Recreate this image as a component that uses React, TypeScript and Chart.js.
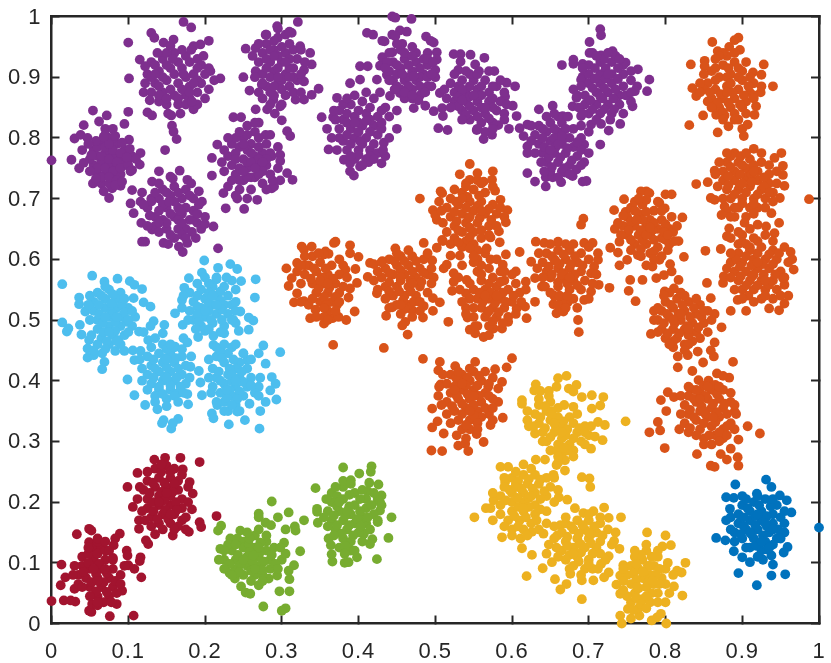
import React, { useEffect, useRef } from "react";
import { Chart, registerables } from "chart.js";

Chart.register(...registerables);

type P = number[];

const purple: P[] = [
  [0,.763],[.026,.764],[.054,.845],[.042,.821],[.072,.837],[.100,.843],[.095,.823],[.03,.799],[.038,.805],[.062,.827],[.116,.775],[.115,.756],[.101,.797],[.075,.701],[.09,.721],[.054,.725],[.079,.717],[.036,.75],[.042,.759],[.105,.747],[.047,.8],[.04,.78],
  [.055,.78],[.065,.79],[.075,.80],[.085,.79],[.095,.78],[.06,.77],[.07,.775],[.08,.77],[.09,.765],[.055,.755],[.065,.76],[.075,.755],[.085,.75],[.095,.755],[.06,.74],[.07,.74],[.08,.735],[.09,.74],[.07,.815],[.08,.815],[.065,.725],[.075,.725],[.105,.77],[.05,.765],[.1,.765],
  [.06,.785],[.07,.785],[.08,.78],[.09,.775],[.065,.77],[.075,.765],[.085,.76],[.06,.75],[.07,.75],[.08,.745],[.09,.75],[.065,.735],[.075,.735],[.085,.73],[.07,.805],[.08,.80],[.075,.79],[.1,.755],
  [.052,.772],[.058,.795],[.068,.802],[.083,.803],[.092,.792],[.102,.782],[.098,.768],[.05,.745],[.058,.733],[.083,.722],[.092,.728],[.103,.745],[.048,.79],[.068,.712],[.11,.765],
  [.172,.991],[.182,.982],[.100,.957],[.101,.898],[.13,.973],[.134,.965],[.146,.957],[.159,.962],[.205,.96],[.194,.954],[.185,.951],[.22,.898],[.207,.91],[.115,.929],[.12,.875],[.125,.842],[.131,.837],[.185,.847],[.19,.855],[.156,.837],[.157,.82],[.163,.798],[.159,.81],[.148,.78],
  [.13,.925],[.145,.93],[.16,.94],[.175,.935],[.19,.93],[.125,.905],[.14,.91],[.155,.915],[.17,.915],[.185,.905],[.135,.89],[.15,.895],[.165,.89],[.18,.885],[.195,.89],[.13,.875],[.145,.875],[.16,.87],[.175,.87],[.19,.875],[.15,.855],[.165,.855],[.14,.86],[.175,.855],[.2,.905],[.195,.92],[.205,.88],
  [.135,.92],[.15,.92],[.165,.925],[.18,.925],[.13,.90],[.145,.90],[.16,.905],[.175,.90],[.19,.895],[.14,.885],[.155,.88],[.17,.88],[.185,.89],[.14,.87],[.15,.865],[.165,.865],[.18,.865],[.15,.94],[.19,.915],[.17,.945],
  [.122,.918],[.138,.94],[.155,.952],[.182,.945],[.198,.935],[.205,.915],[.212,.895],[.122,.89],[.128,.862],[.152,.84],[.168,.84],[.183,.86],[.2,.865],[.135,.905],[.158,.93],[.172,.905],[.18,.875],
  [.14,.745],[.167,.746],[.105,.714],[.192,.712],[.196,.695],[.103,.692],[.107,.676],[.116,.695],[.131,.728],[.155,.736],[.177,.731],[.217,.618],[.171,.612],[.122,.629],[.118,.629],[.146,.627],[.166,.621],[.188,.635],[.211,.654],[.117,.66],[.131,.649],[.177,.627],
  [.13,.70],[.145,.715],[.16,.72],[.175,.715],[.185,.70],[.125,.685],[.14,.70],[.155,.705],[.17,.70],[.185,.68],[.135,.67],[.15,.685],[.165,.685],[.18,.665],[.145,.665],[.16,.67],[.175,.65],[.15,.65],[.165,.65],[.19,.66],[.2,.67],[.135,.655],[.16,.635],
  [.135,.71],[.15,.71],[.165,.71],[.18,.705],[.13,.695],[.145,.69],[.16,.695],[.175,.685],[.14,.68],[.155,.675],[.17,.675],[.185,.665],[.15,.66],[.165,.665],[.17,.66],[.155,.64],[.17,.64],[.14,.66],[.19,.675],
  [.118,.71],[.12,.69],[.128,.672],[.14,.725],[.158,.733],[.182,.725],[.192,.69],[.195,.65],[.183,.645],[.14,.645],[.152,.625],[.175,.635],[.2,.658],[.125,.655],[.153,.695],[.168,.68],
  [.227,.684],[.251,.683],[.268,.698],[.242,.70],[.224,.709],[.209,.767],[.209,.738],[.216,.789],[.237,.834],[.247,.834],[.266,.847],[.279,.805],[.287,.77],[.287,.717],[.298,.772],[.298,.762],[.307,.811],[.311,.803],[.307,.742],[.314,.731],[.298,.73],[.29,.72],[.288,.73],
  [.235,.79],[.25,.80],[.265,.81],[.28,.79],[.23,.77],[.245,.785],[.26,.79],[.275,.775],[.235,.755],[.25,.765],[.265,.77],[.28,.755],[.24,.74],[.255,.75],[.27,.755],[.285,.74],[.25,.73],[.265,.735],[.275,.725],[.225,.745],[.255,.82],[.27,.825],[.23,.72],[.245,.715],[.26,.715],
  [.24,.775],[.255,.78],[.27,.785],[.285,.775],[.24,.765],[.255,.76],[.27,.765],[.245,.75],[.26,.76],[.275,.745],[.245,.73],[.26,.735],[.27,.74],[.255,.805],[.27,.80],[.24,.80],[.25,.79],[.28,.765],[.255,.735],
  [.222,.76],[.225,.78],[.23,.80],[.245,.81],[.265,.825],[.285,.805],[.295,.785],[.295,.75],[.235,.73],[.24,.705],[.255,.70],[.28,.715],[.25,.745],[.275,.76],[.26,.775],[.265,.75],
  [.294,.984],[.279,.97],[.253,.947],[.266,.948],[.25,.90],[.266,.91],[.258,.878],[.274,.888],[.289,.863],[.281,.847],[.321,.991],[.313,.973],[.324,.951],[.337,.94],[.339,.921],[.329,.912],[.329,.893],[.348,.881],[.339,.871],[.329,.863],[.318,.863],[.298,.852],[.3,.829],[.291,.84],
  [.28,.955],[.295,.965],[.31,.955],[.275,.94],[.29,.945],[.305,.94],[.32,.93],[.27,.925],[.285,.925],[.30,.925],[.315,.915],[.275,.905],[.29,.91],[.305,.905],[.32,.895],[.28,.885],[.295,.89],[.31,.885],[.29,.87],[.305,.87],[.295,.98],[.285,.855],[.27,.875],
  [.285,.945],[.30,.95],[.315,.945],[.28,.93],[.295,.935],[.31,.93],[.28,.915],[.295,.915],[.31,.915],[.285,.90],[.30,.895],[.315,.90],[.285,.875],[.30,.88],[.315,.875],[.29,.96],[.275,.89],[.305,.97],
  [.262,.935],[.265,.9],[.27,.955],[.28,.97],[.31,.975],[.325,.945],[.33,.925],[.325,.905],[.325,.875],[.30,.855],[.275,.865],[.29,.935],[.305,.925],[.295,.90],[.29,.885],[.31,.90],
  [.352,.834],[.359,.815],[.361,.781],[.367,.834],[.394,.738],[.389,.745],[.381,.764],[.389,.758],[.402,.753],[.413,.76],[.43,.758],[.435,.77],[.433,.792],[.45,.815],[.45,.845],[.441,.869],[.402,.918],[.412,.918],[.428,.919],[.431,.933],[.372,.866],[.389,.89],[.402,.896],[.424,.896],
  [.375,.845],[.39,.855],[.405,.86],[.42,.865],[.435,.85],[.38,.83],[.395,.835],[.41,.84],[.425,.835],[.375,.815],[.39,.815],[.405,.82],[.42,.82],[.38,.795],[.395,.80],[.41,.80],[.425,.805],[.385,.78],[.40,.78],[.415,.78],[.395,.765],[.41,.765],[.425,.775],[.375,.80],[.43,.815],
  [.385,.84],[.40,.845],[.415,.85],[.43,.845],[.385,.825],[.40,.825],[.415,.83],[.385,.805],[.40,.81],[.415,.81],[.39,.79],[.405,.79],[.42,.79],[.40,.772],[.415,.77],[.43,.825],[.37,.83],[.395,.87],
  [.368,.845],[.365,.80],[.372,.78],[.38,.855],[.41,.875],[.428,.875],[.44,.835],[.44,.80],[.432,.78],[.405,.755],[.42,.765],[.39,.77],[.395,.825],[.41,.828],[.402,.795],[.385,.865],
  [.444,1],[.448,.998],[.469,.996],[.411,.973],[.419,.97],[.431,.96],[.434,.959],[.444,.97],[.454,.977],[.463,.975],[.448,.968],[.488,.967],[.498,.957],[.494,.96],[.457,.955],[.444,.941],[.502,.941],[.502,.929],[.5,.912],[.5,.90],[.472,.849],[.487,.853],[.454,.874],[.437,.904],
  [.445,.925],[.46,.93],[.475,.925],[.49,.92],[.44,.91],[.455,.915],[.47,.91],[.485,.905],[.445,.895],[.46,.895],[.475,.895],[.49,.885],[.455,.88],[.47,.88],[.48,.87],[.46,.865],[.475,.94],[.455,.945],[.49,.94],
  [.45,.92],[.465,.92],[.48,.915],[.45,.905],[.465,.90],[.48,.90],[.45,.885],[.465,.885],[.48,.885],[.46,.875],[.47,.865],[.46,.94],[.47,.935],[.485,.93],[.49,.90],[.44,.895],
  [.437,.925],[.44,.94],[.45,.955],[.47,.95],[.49,.93],[.497,.925],[.495,.905],[.495,.885],[.487,.875],[.478,.862],[.447,.88],[.435,.915],[.47,.87],[.457,.905],[.472,.902],
  [.504,.816],[.516,.813],[.524,.938],[.533,.938],[.546,.937],[.564,.932],[.577,.91],[.552,.921],[.557,.91],[.604,.885],[.593,.891],[.591,.868],[.601,.853],[.606,.836],[.596,.815],[.582,.821],[.563,.798],[.574,.805],[.554,.813],[.51,.836],[.498,.844],[.509,.849],[.506,.874],[.53,.912],[.533,.926],
  [.52,.89],[.535,.895],[.55,.895],[.565,.895],[.58,.885],[.525,.875],[.54,.875],[.555,.88],[.57,.875],[.525,.86],[.54,.86],[.555,.86],[.57,.86],[.585,.86],[.535,.845],[.55,.845],[.565,.84],[.58,.845],[.545,.83],[.56,.825],[.575,.825],[.565,.81],
  [.53,.885],[.545,.885],[.56,.885],[.575,.885],[.53,.868],[.545,.868],[.56,.87],[.575,.865],[.53,.852],[.545,.852],[.56,.85],[.575,.85],[.54,.838],[.555,.835],[.57,.832],[.59,.875],[.545,.905],[.535,.88],
  [.512,.88],[.515,.865],[.52,.85],[.525,.905],[.54,.91],[.555,.905],[.57,.91],[.585,.895],[.593,.855],[.59,.84],[.59,.83],[.575,.815],[.555,.815],[.535,.83],[.535,.862],[.55,.87],[.565,.85],
  [.61,.816],[.62,.822],[.615,.803],[.62,.786],[.62,.775],[.62,.742],[.63,.728],[.644,.735],[.644,.72],[.635,.847],[.664,.727],[.679,.737],[.692,.728],[.697,.729],[.653,.735],[.715,.789],[.694,.76],[.684,.748],[.669,.743],[.666,.836],[.653,.853],[.69,.836],[.694,.789],
  [.635,.82],[.65,.825],[.665,.825],[.68,.815],[.63,.805],[.645,.81],[.66,.81],[.675,.80],[.69,.80],[.635,.79],[.65,.795],[.665,.79],[.68,.785],[.64,.775],[.655,.775],[.67,.775],[.685,.77],[.645,.76],[.66,.76],[.675,.755],[.65,.745],[.665,.745],[.69,.78],
  [.64,.815],[.655,.815],[.67,.815],[.64,.80],[.655,.80],[.67,.80],[.685,.793],[.642,.785],[.657,.785],[.672,.783],[.648,.768],[.663,.768],[.678,.763],[.652,.752],[.668,.75],[.66,.835],[.645,.835],
  [.625,.82],[.625,.795],[.63,.775],[.638,.76],[.642,.745],[.66,.735],[.675,.74],[.69,.755],[.70,.775],[.70,.81],[.69,.82],[.673,.835],[.655,.84],[.66,.79],[.65,.78],[.665,.803],
  [.715,.979],[.716,.969],[.701,.958],[.665,.92],[.68,.929],[.68,.922],[.692,.922],[.701,.94],[.705,.94],[.716,.936],[.731,.943],[.748,.924],[.764,.913],[.779,.896],[.763,.885],[.76,.877],[.776,.877],[.757,.852],[.741,.823],[.726,.812],[.692,.901],[.69,.896],[.68,.880],[.684,.866],[.679,.852],[.703,.822],[.716,.823],
  [.70,.92],[.715,.925],[.73,.925],[.745,.92],[.70,.905],[.715,.905],[.73,.905],[.745,.905],[.70,.89],[.715,.89],[.73,.89],[.745,.885],[.695,.87],[.71,.875],[.725,.875],[.74,.87],[.695,.855],[.71,.855],[.725,.855],[.74,.855],[.755,.86],[.70,.84],[.715,.84],[.73,.84],
  [.708,.915],[.722,.915],[.738,.915],[.708,.898],[.722,.898],[.738,.897],[.705,.882],[.72,.882],[.735,.88],[.702,.862],[.718,.865],[.732,.865],[.748,.87],[.705,.847],[.72,.847],[.733,.847],[.72,.93],[.735,.935],
  [.692,.915],[.69,.885],[.685,.87],[.687,.85],[.692,.84],[.71,.83],[.728,.83],[.745,.84],[.755,.875],[.755,.895],[.755,.91],[.71,.935],[.725,.94],[.74,.93],[.715,.868],[.725,.905],
];

const orange: P[] = [
  [.895,.965],[.89,.961],[.861,.958],[.883,.95],[.868,.943],[.897,.945],[.833,.921],[.851,.927],[.851,.918],[.928,.921],[.914,.908],[.925,.904],[.94,.885],[.835,.882],[.84,.869],[.849,.837],[.831,.821],[.868,.809],[.882,.819],[.902,.803],[.9,.815],[.907,.822],[.895,.83],[.918,.852],[.916,.838],[.866,.838],[.877,.837],[.924,.875],
  [.86,.91],[.875,.92],[.89,.925],[.90,.91],[.855,.89],[.87,.90],[.885,.905],[.90,.895],[.915,.89],[.85,.88],[.865,.88],[.88,.885],[.895,.88],[.91,.875],[.86,.865],[.875,.865],[.89,.865],[.905,.86],[.87,.85],[.885,.85],[.90,.85],[.905,.84],[.88,.935],[.875,.94],
  [.865,.895],[.88,.90],[.895,.90],[.908,.885],[.858,.875],[.872,.872],[.887,.875],[.902,.87],[.868,.858],[.882,.858],[.897,.855],[.865,.915],[.882,.915],[.895,.915],[.875,.842],[.89,.84],
  [.85,.905],[.845,.89],[.845,.875],[.855,.86],[.86,.85],[.875,.83],[.89,.83],[.915,.87],[.915,.865],[.925,.885],[.91,.90],[.905,.925],[.87,.935],[.865,.93],[.89,.94],[.88,.875],[.885,.89],
  [.915,.782],[.951,.775],[.942,.767],[.953,.754],[.953,.739],[.955,.721],[.949,.701],[.987,.699],[.84,.724],[.855,.727],[.864,.746],[.859,.701],[.864,.698],[.89,.775],[.877,.687],[.938,.676],
  [.88,.76],[.895,.76],[.91,.765],[.925,.76],[.875,.745],[.89,.745],[.905,.75],[.92,.745],[.935,.74],[.875,.73],[.89,.73],[.905,.735],[.92,.73],[.935,.725],[.88,.715],[.895,.715],[.91,.72],[.925,.715],[.94,.71],[.885,.70],[.90,.70],[.915,.70],[.93,.70],[.895,.685],[.91,.685],[.92,.685],[.89,.67],[.905,.67],
  [.885,.752],[.90,.755],[.915,.755],[.882,.737],[.897,.74],[.912,.74],[.928,.735],[.882,.722],[.897,.722],[.912,.727],[.928,.72],[.89,.707],[.905,.71],[.92,.707],[.935,.71],[.9,.692],[.915,.692],[.89,.685],[.898,.77],[.885,.77],
  [.87,.76],[.865,.74],[.868,.72],[.875,.70],[.88,.775],[.905,.775],[.925,.775],[.935,.755],[.945,.745],[.945,.725],[.94,.695],[.93,.685],[.915,.675],[.88,.68],[.90,.725],[.915,.745],
  [.967,.583],[.963,.612],[.948,.66],[.872,.617],[.852,.614],[.875,.561],[.876,.572],[.885,.515],[.905,.515],[.894,.533],[.935,.519],[.948,.516],[.955,.527],[.96,.54],[.955,.558],[.953,.569],[.883,.651],[.88,.638],[.885,.67],[.873,.673],[.92,.657],[.942,.643],[.931,.654],[.903,.66],
  [.885,.635],[.90,.64],[.915,.635],[.93,.64],[.895,.625],[.91,.62],
  [.895,.61],[.91,.615],[.925,.62],[.94,.615],[.955,.62],[.885,.595],[.90,.595],[.915,.60],[.93,.60],[.945,.60],[.89,.58],[.905,.58],[.92,.585],[.935,.585],[.95,.58],[.895,.565],[.91,.565],[.925,.565],[.94,.565],[.90,.55],[.915,.55],[.93,.55],[.945,.55],[.925,.535],[.94,.535],
  [.892,.60],[.905,.605],[.92,.61],[.935,.608],[.948,.61],[.897,.588],[.912,.59],[.927,.592],[.94,.592],[.898,.572],[.913,.572],[.928,.575],[.943,.575],[.905,.557],[.92,.557],[.935,.558],[.908,.54],[.93,.54],[.92,.63],[.9,.628],
  [.885,.61],[.88,.585],[.885,.57],[.89,.55],[.90,.535],[.915,.53],[.95,.54],[.955,.57],[.96,.595],[.965,.60],[.905,.625],[.94,.63],[.915,.575],[.93,.565],[.92,.595],[.895,.645],[.91,.65],
  [.746,.699],[.733,.681],[.775,.712],[.768,.712],[.779,.709],[.8,.707],[.808,.707],[.792,.693],[.799,.684],[.822,.669],[.734,.65],[.74,.629],[.728,.619],[.738,.611],[.75,.599],[.74,.59],[.824,.604],[.817,.63],[.806,.592],[.808,.58],[.798,.574],[.788,.569],[.77,.566],[.754,.566],[.752,.548],[.761,.531],[.775,.59],[.783,.588],[.792,.599],[.764,.607],[.803,.615],[.748,.678],
  [.755,.685],[.77,.69],[.785,.68],[.75,.67],[.765,.675],[.78,.665],[.795,.665],[.745,.655],[.76,.655],[.775,.655],[.79,.65],[.805,.65],[.75,.64],[.765,.64],[.78,.64],[.795,.635],[.81,.645],[.76,.625],[.775,.625],[.79,.62],[.805,.625],[.78,.61],[.795,.605],
  [.76,.68],[.775,.678],[.755,.662],[.77,.665],[.785,.66],[.8,.658],[.752,.648],[.768,.648],[.783,.648],[.798,.645],[.755,.632],[.77,.632],[.785,.632],[.8,.632],[.768,.617],[.785,.613],[.775,.698],[.76,.695],
  [.745,.672],[.738,.66],[.742,.64],[.755,.615],[.768,.605],[.785,.60],[.803,.64],[.812,.63],[.815,.655],[.808,.67],[.795,.68],[.79,.695],[.765,.70],[.775,.64],[.78,.652],[.762,.665],
  [.693,.667],[.69,.657],[.66,.629],[.694,.627],[.705,.627],[.712,.599],[.713,.558],[.727,.553],[.703,.547],[.694,.533],[.673,.53],[.654,.526],[.658,.511],[.667,.514],[.686,.5],[.687,.48],[.707,.588],[.703,.577],[.631,.629],[.642,.627],[.625,.596],[.618,.563],[.63,.569],[.63,.53],[.639,.555],
  [.645,.61],[.66,.615],[.675,.615],[.69,.61],[.64,.595],[.655,.60],[.67,.60],[.685,.595],[.70,.60],[.645,.58],[.66,.585],[.675,.585],[.69,.58],[.65,.57],[.665,.57],[.68,.565],[.695,.565],[.66,.555],[.675,.55],[.69,.55],[.655,.54],[.68,.535],[.665,.53],
  [.652,.605],[.667,.608],[.682,.605],[.648,.588],[.662,.592],[.677,.592],[.692,.59],[.652,.575],[.667,.577],[.682,.575],[.66,.562],[.672,.56],[.685,.557],[.662,.54],[.672,.54],[.65,.625],[.67,.625],[.66,.525],
  [.635,.61],[.633,.585],[.64,.57],[.643,.555],[.65,.545],[.67,.52],[.685,.52],[.70,.535],[.705,.56],[.71,.575],[.712,.61],[.70,.62],[.68,.625],[.665,.575],[.675,.57],[.657,.597],
  [.619,.503],[.617,.522],[.606,.519],[.587,.486],[.563,.472],[.552,.478],[.545,.484],[.542,.504],[.54,.52],[.54,.544],[.541,.566],[.517,.497],[.522,.548],[.524,.563],[.524,.577],[.511,.585],[.515,.591],[.588,.591],[.592,.608],[.61,.612],[.605,.58],[.595,.497],[.576,.486],
  [.555,.58],[.57,.585],[.56,.565],[.575,.57],[.59,.565],[.55,.55],[.565,.55],[.58,.555],[.595,.55],[.61,.545],[.555,.535],[.57,.535],[.585,.535],[.60,.53],[.56,.52],[.575,.52],[.59,.52],[.565,.505],[.58,.505],[.595,.505],[.57,.49],[.55,.52],[.555,.60],[.565,.61],
  [.56,.575],[.57,.56],[.585,.563],[.558,.545],[.572,.545],[.588,.545],[.602,.54],[.562,.53],[.578,.528],[.592,.53],[.568,.512],[.583,.513],[.575,.498],[.588,.495],[.56,.59],[.572,.6],[.585,.58],[.545,.56],[.55,.595],[.545,.535],[.55,.505],[.605,.56],[.555,.49],
  [.535,.59],[.53,.57],[.532,.55],[.535,.53],[.54,.51],[.552,.49],[.605,.51],[.612,.53],[.618,.55],[.60,.575],[.59,.58],[.58,.60],[.57,.515],[.58,.54],[.565,.54],[.57,.475],
  [.545,.757],[.532,.74],[.555,.742],[.575,.745],[.48,.70],[.507,.712],[.585,.698],[.594,.681],[.563,.728],[.545,.731],[.574,.731],[.578,.713],[.497,.681],[.502,.665],[.592,.661],[.583,.646],[.572,.636],[.584,.628],[.567,.618],[.502,.619],[.509,.632],[.52,.606],[.532,.606],[.5,.673],[.509,.709],
  [.52,.70],[.535,.71],[.55,.715],[.565,.71],[.515,.685],[.53,.69],[.545,.695],[.56,.695],[.575,.69],[.52,.67],[.535,.675],[.55,.68],[.565,.675],[.58,.675],[.525,.655],[.54,.66],[.555,.66],[.57,.655],[.535,.645],[.55,.645],[.56,.635],[.525,.635],[.54,.63],[.55,.625],[.535,.62],[.555,.615],[.52,.625],
  [.527,.695],[.542,.703],[.557,.705],[.525,.678],[.54,.685],[.555,.688],[.57,.683],[.528,.663],[.543,.668],[.558,.668],[.573,.665],[.53,.648],[.545,.652],[.545,.637],[.56,.648],[.53,.628],[.545,.618],[.54,.725],[.555,.73],
  [.505,.695],[.508,.68],[.51,.66],[.515,.645],[.525,.715],[.54,.72],[.56,.725],[.575,.72],[.585,.685],[.59,.67],[.58,.655],[.57,.64],[.51,.63],[.545,.67],[.56,.68],[.535,.70],[.55,.605],
  [.485,.627],[.448,.618],[.431,.597],[.415,.594],[.42,.592],[.412,.571],[.424,.544],[.436,.507],[.484,.504],[.461,.497],[.457,.491],[.464,.476],[.497,.536],[.506,.529],[.497,.515],[.496,.598],[.498,.57],[.433,.454],[.444,.521],[.47,.516],[.485,.523],
  [.44,.60],[.455,.605],[.47,.605],[.485,.60],[.435,.585],[.45,.59],[.465,.59],[.48,.585],[.43,.57],[.445,.575],[.46,.575],[.475,.57],[.49,.575],[.435,.555],[.45,.555],[.465,.555],[.48,.555],[.445,.54],[.46,.54],[.475,.54],[.45,.525],[.465,.525],[.455,.51],[.47,.505],
  [.447,.597],[.46,.597],[.475,.597],[.44,.577],[.455,.582],[.47,.58],[.485,.578],[.44,.562],[.455,.565],[.468,.565],[.482,.563],[.44,.547],[.453,.547],[.468,.547],[.458,.532],[.472,.53],[.46,.518],
  [.43,.595],[.425,.58],[.42,.565],[.425,.55],[.435,.535],[.44,.52],[.455,.525],[.48,.53],[.49,.545],[.495,.56],[.495,.585],[.465,.615],[.45,.61],[.455,.57],[.47,.56],[.48,.515],[.49,.61],
  [.367,.459],[.368,.627],[.37,.629],[.326,.621],[.329,.616],[.339,.621],[.357,.613],[.361,.609],[.389,.623],[.389,.61],[.4,.604],[.306,.585],[.32,.594],[.396,.584],[.398,.561],[.389,.552],[.387,.537],[.395,.514],[.384,.5],[.355,.494],[.337,.503],[.316,.529],[.309,.556],[.366,.503],[.374,.505],[.344,.517],[.329,.531],[.32,.544],[.313,.569],[.383,.583],
  [.335,.59],[.35,.595],[.365,.59],[.33,.575],[.345,.58],[.36,.575],[.375,.575],[.34,.56],[.355,.56],[.37,.56],[.345,.545],[.36,.545],[.375,.545],[.35,.53],[.365,.53],[.36,.515],[.37,.515],[.355,.505],
  [.342,.585],[.357,.585],[.338,.568],[.352,.57],[.367,.568],[.348,.552],[.362,.553],[.355,.538],[.37,.538],[.358,.525],[.372,.525],[.34,.605],[.355,.608],[.325,.56],[.33,.59],
  [.32,.58],[.325,.59],[.33,.605],[.348,.61],[.375,.60],[.38,.59],[.385,.57],[.38,.555],[.375,.53],[.36,.50],[.345,.505],[.335,.525],[.325,.53],[.35,.565],[.36,.56],[.355,.52],[.34,.535],
  [.484,.436],[.506,.431],[.504,.417],[.526,.424],[.552,.431],[.6,.437],[.593,.422],[.578,.419],[.587,.398],[.582,.387],[.582,.365],[.588,.339],[.572,.327],[.507,.394],[.504,.375],[.496,.354],[.503,.333],[.496,.323],[.511,.313],[.528,.31],[.563,.299],[.554,.312],[.543,.284],[.53,.293],[.539,.296],[.495,.285],[.509,.284],[.569,.39],
  [.52,.41],[.535,.41],[.55,.415],[.565,.415],[.515,.395],[.53,.40],[.545,.40],[.56,.40],[.52,.38],[.535,.385],[.55,.385],[.565,.38],[.515,.365],[.53,.37],[.545,.37],[.56,.365],[.575,.37],[.525,.35],[.54,.355],[.555,.35],[.57,.345],[.53,.335],[.545,.335],[.56,.34],[.545,.32],[.535,.32],
  [.527,.405],[.542,.405],[.557,.408],[.525,.39],[.54,.392],[.555,.392],[.528,.375],[.542,.378],[.557,.375],[.57,.375],[.522,.358],[.535,.362],[.55,.36],[.565,.355],[.535,.345],[.55,.343],[.54,.327],[.525,.385],
  [.51,.41],[.505,.39],[.508,.36],[.515,.345],[.52,.33],[.53,.415],[.545,.42],[.575,.405],[.57,.395],[.575,.355],[.575,.335],[.555,.33],[.555,.32],[.54,.305],[.55,.375],[.535,.395],[.545,.35],
  [.817,.566],[.811,.552],[.854,.561],[.799,.547],[.859,.536],[.864,.51],[.873,.488],[.864,.463],[.842,.448],[.863,.44],[.849,.43],[.816,.422],[.816,.44],[.829,.442],[.781,.477],[.785,.515],[.859,.45],
  [.80,.53],[.815,.535],[.83,.53],[.845,.525],[.795,.515],[.81,.52],[.825,.515],[.84,.51],[.855,.515],[.79,.50],[.805,.505],[.82,.50],[.835,.495],[.85,.495],[.795,.485],[.81,.485],[.825,.485],[.84,.48],[.80,.47],[.815,.47],[.835,.465],[.81,.455],
  [.807,.525],[.822,.525],[.837,.52],[.802,.51],[.817,.51],[.832,.505],[.847,.505],[.798,.495],[.812,.495],[.828,.49],[.843,.488],[.803,.478],[.818,.478],[.83,.475],[.825,.46],[.82,.545],[.805,.545],[.81,.465],
  [.785,.50],[.79,.52],[.798,.54],[.825,.54],[.84,.535],[.85,.515],[.86,.50],[.855,.48],[.845,.47],[.83,.46],[.805,.46],[.79,.48],[.82,.51],[.83,.485],[.81,.50],[.825,.45],
  [.888,.431],[.867,.412],[.883,.405],[.875,.408],[.835,.416],[.843,.401],[.856,.4],[.865,.393],[.833,.386],[.803,.381],[.811,.373],[.794,.368],[.801,.35],[.79,.332],[.793,.318],[.779,.315],[.799,.289],[.841,.279],[.872,.279],[.885,.288],[.894,.274],[.88,.27],[.895,.26],[.859,.26],[.864,.258],[.895,.303],[.923,.313],[.907,.325],[.89,.349],[.818,.32],
  [.83,.375],[.845,.38],[.86,.385],[.875,.385],[.825,.36],[.84,.365],[.855,.37],[.87,.37],[.885,.365],[.83,.345],[.845,.35],[.86,.355],[.875,.355],[.825,.33],[.84,.335],[.855,.34],[.87,.34],[.885,.33],[.83,.315],[.845,.32],[.86,.325],[.875,.32],[.85,.305],[.865,.31],[.875,.305],[.86,.295],
  [.837,.37],[.852,.375],[.867,.378],[.832,.352],[.847,.358],[.862,.362],[.877,.362],[.837,.34],[.852,.345],[.867,.348],[.88,.345],[.832,.322],[.85,.33],[.865,.332],[.88,.325],[.857,.31],[.87,.315],[.85,.392],[.84,.385],
  [.82,.375],[.83,.39],[.855,.39],[.87,.39],[.885,.38],[.89,.36],[.892,.345],[.89,.32],[.88,.31],[.87,.30],[.85,.295],[.84,.31],[.82,.345],[.85,.35],[.862,.34],[.845,.37],
];

const lightBlue: P[] = [
  [.014,.559],[.053,.573],[.086,.568],[.069,.563],[.102,.564],[.108,.558],[.118,.551],[.036,.537],[.036,.526],[.044,.514],[.129,.522],[.12,.529],[.014,.496],[.022,.486],[.02,.481],[.037,.492],[.039,.476],[.049,.467],[.047,.453],[.047,.438],[.055,.442],[.069,.431],[.066,.419],[.066,.445],[.083,.449],[.095,.449],[.114,.481],[.12,.48],[.107,.536],[.109,.505],
  [.06,.545],[.075,.55],[.09,.545],[.055,.53],[.07,.535],[.085,.535],[.10,.52],[.055,.515],[.07,.52],[.085,.52],[.06,.50],[.075,.505],[.09,.505],[.105,.49],[.06,.485],[.075,.49],[.09,.49],[.065,.47],[.08,.475],[.095,.475],[.06,.46],[.075,.46],[.09,.46],
  [.065,.54],[.08,.542],[.062,.525],[.078,.527],[.092,.525],[.062,.51],[.078,.512],[.095,.512],[.067,.495],[.083,.497],[.098,.497],[.068,.48],[.083,.482],[.072,.465],[.087,.467],
  [.05,.54],[.048,.525],[.05,.50],[.052,.475],[.07,.555],[.095,.535],[.1,.50],[.105,.515],[.1,.48],[.085,.465],[.07,.452],[.055,.45],[.08,.51],[.07,.505],[.085,.505],[.075,.48],
  [.199,.598],[.217,.586],[.233,.592],[.242,.584],[.196,.578],[.179,.569],[.173,.553],[.247,.564],[.266,.567],[.265,.537],[.161,.511],[.17,.533],[.171,.492],[.191,.472],[.211,.474],[.2,.482],[.225,.478],[.244,.482],[.257,.484],[.263,.499],[.257,.504],[.246,.514],[.237,.5],
  [.18,.545],[.195,.55],[.21,.555],[.225,.555],[.185,.53],[.20,.535],[.215,.54],[.23,.54],[.18,.515],[.195,.52],[.21,.525],[.225,.525],[.185,.50],[.20,.505],[.215,.51],[.23,.51],[.195,.49],[.21,.495],[.225,.49],[.24,.495],[.205,.56],[.235,.565],
  [.19,.54],[.205,.545],[.22,.547],[.19,.522],[.205,.527],[.22,.532],[.19,.51],[.205,.515],[.222,.517],[.192,.497],[.208,.5],[.222,.5],[.2,.57],[.215,.567],[.228,.57],[.235,.525],
  [.172,.54],[.17,.52],[.178,.5],[.188,.485],[.205,.485],[.22,.48],[.235,.50],[.24,.515],[.24,.53],[.24,.55],[.215,.57],[.19,.56],[.2,.515],[.215,.525],[.21,.54],
  [.147,.492],[.133,.498],[.129,.49],[.145,.478],[.172,.47],[.177,.463],[.126,.467],[.106,.45],[.116,.449],[.108,.434],[.099,.402],[.108,.376],[.122,.36],[.138,.353],[.146,.335],[.144,.33],[.165,.337],[.156,.321],[.158,.33],[.178,.361],[.177,.378],[.194,.397],[.192,.416],[.181,.423],[.161,.456],
  [.125,.44],[.14,.445],[.155,.445],[.17,.44],[.13,.425],[.145,.43],[.16,.43],[.175,.425],[.125,.41],[.14,.415],[.155,.415],[.17,.41],[.13,.395],[.145,.40],[.16,.40],[.175,.395],[.14,.385],[.155,.385],[.15,.37],[.135,.375],[.165,.38],[.145,.46],[.13,.455],
  [.133,.435],[.148,.437],[.162,.437],[.135,.42],[.15,.422],[.165,.42],[.133,.405],[.148,.407],[.163,.405],[.14,.39],[.155,.392],[.168,.39],[.145,.378],[.16,.375],[.15,.452],[.16,.455],
  [.115,.435],[.118,.42],[.118,.40],[.125,.385],[.135,.365],[.15,.358],[.165,.365],[.172,.38],[.18,.405],[.182,.44],[.17,.452],[.155,.46],[.135,.47],[.15,.405],[.15,.435],
  [.298,.447],[.276,.458],[.27,.445],[.279,.428],[.211,.459],[.287,.406],[.292,.395],[.293,.369],[.285,.384],[.272,.35],[.252,.335],[.271,.321],[.231,.328],[.209,.346],[.211,.338],[.196,.376],[.216,.36],[.242,.349],[.279,.365],[.255,.434],
  [.215,.44],[.23,.445],[.245,.43],[.21,.42],[.225,.43],[.24,.42],[.255,.42],[.215,.405],[.23,.41],[.245,.405],[.26,.405],[.21,.39],[.225,.395],[.24,.39],[.255,.39],[.27,.39],[.22,.38],[.235,.375],[.25,.375],[.265,.38],[.225,.365],[.24,.36],[.23,.35],[.22,.45],[.215,.455],
  [.222,.437],[.237,.435],[.218,.415],[.232,.42],[.248,.415],[.22,.4],[.235,.4],[.25,.398],[.232,.385],[.245,.382],[.26,.392],[.228,.372],[.242,.37],[.235,.36],[.235,.455],[.25,.445],
  [.205,.435],[.205,.405],[.208,.38],[.215,.365],[.225,.35],[.245,.35],[.258,.362],[.27,.375],[.272,.405],[.26,.435],[.25,.445],[.24,.46],[.225,.46],[.235,.41],[.24,.4],[.228,.385],
];

const darkRed: P[] = [
  [0,.037],[.013,.097],[.012,.063],[.016,.038],[.018,.076],[.033,.147],[.049,.156],[.052,.153],[.049,.134],[.089,.148],[.083,.14],[.081,.129],[.098,.12],[.099,.112],[.116,.109],[.115,.103],[.1,.096],[.108,.09],[.117,.076],[.08,.108],[.107,.013],[.076,.012],[.049,.021],[.052,.019],[.085,.032],[.092,.054],[.031,.036],[.025,.038],[.03,.057],[.053,.032],
  [.04,.11],[.055,.125],[.065,.125],[.04,.095],[.055,.105],[.07,.105],[.035,.08],[.05,.09],[.065,.09],[.08,.09],[.045,.075],[.06,.075],[.075,.075],[.09,.08],[.05,.06],[.065,.06],[.08,.06],[.06,.045],[.075,.045],[.085,.05],[.035,.065],[.06,.135],
  [.048,.115],[.06,.115],[.048,.1],[.062,.098],[.042,.085],[.058,.082],[.072,.083],[.052,.068],[.068,.068],[.083,.07],[.058,.053],[.072,.052],[.068,.035],[.06,.03],[.07,.12],
  [.03,.095],[.028,.08],[.04,.06],[.05,.045],[.06,.035],[.078,.035],[.09,.065],[.095,.095],[.08,.105],[.075,.12],[.06,.14],[.07,.135],[.048,.125],[.06,.07],[.055,.09],[.07,.09],
  [.193,.266],[.168,.273],[.148,.273],[.134,.27],[.112,.248],[.099,.225],[.171,.254],[.18,.233],[.184,.214],[.183,.188],[.193,.167],[.195,.159],[.179,.151],[.158,.145],[.114,.156],[.114,.17],[.106,.192],[.126,.131],[.123,.137],[.135,.147],[.215,.177],
  [.135,.255],[.15,.26],[.16,.255],[.125,.235],[.14,.24],[.155,.24],[.165,.235],[.12,.22],[.135,.225],[.15,.225],[.165,.22],[.125,.205],[.14,.21],[.155,.21],[.17,.205],[.125,.19],[.14,.195],[.155,.195],[.17,.19],[.13,.175],[.145,.18],[.16,.18],[.17,.17],[.14,.165],[.155,.165],[.175,.155],
  [.143,.25],[.155,.25],[.132,.232],[.147,.232],[.16,.23],[.128,.215],[.143,.217],[.158,.217],[.132,.2],[.147,.203],[.162,.2],[.133,.185],[.148,.187],[.163,.187],[.138,.172],[.152,.172],[.165,.16],
  [.115,.225],[.112,.205],[.118,.185],[.122,.17],[.13,.16],[.145,.155],[.16,.155],[.175,.175],[.178,.2],[.178,.225],[.17,.245],[.143,.262],[.125,.25],[.15,.215],[.14,.2],[.155,.18],
];

const green: P[] = [
  [.287,.201],[.27,.181],[.27,.175],[.295,.175],[.309,.183],[.279,.166],[.286,.162],[.329,.17],[.317,.16],[.318,.153],[.305,.155],[.303,.133],[.324,.119],[.221,.161],[.217,.153],[.246,.153],[.22,.123],[.316,.096],[.309,.087],[.31,.073],[.31,.053],[.297,.053],[.276,.028],[.305,.025],[.3,.021],[.247,.061],[.253,.051],[.259,.049],[.27,.063],[.294,.079],[.283,.074],[.239,.074],[.232,.083],[.233,.14],[.242,.14],
  [.25,.135],[.265,.145],[.28,.135],[.235,.12],[.25,.125],[.265,.125],[.28,.12],[.29,.125],[.225,.105],[.24,.105],[.255,.11],[.27,.11],[.285,.105],[.30,.105],[.24,.09],[.255,.095],[.27,.095],[.285,.09],[.25,.08],[.265,.08],[.275,.08],[.23,.13],[.27,.155],
  [.257,.13],[.272,.133],[.243,.113],[.258,.118],[.272,.118],[.287,.113],[.232,.098],[.247,.098],[.262,.102],[.277,.102],[.292,.098],[.245,.085],[.26,.087],[.275,.088],[.258,.14],
  [.225,.12],[.218,.105],[.225,.09],[.235,.08],[.26,.07],[.275,.07],[.295,.09],[.305,.115],[.298,.125],[.28,.145],[.255,.15],[.24,.13],[.265,.09],[.25,.105],[.27,.125],[.263,.112],
  [.38,.257],[.417,.259],[.416,.25],[.401,.247],[.39,.236],[.414,.232],[.426,.229],[.412,.218],[.344,.223],[.346,.189],[.346,.184],[.347,.166],[.443,.175],[.439,.141],[.425,.167],[.418,.139],[.415,.131],[.424,.106],[.398,.109],[.382,.1],[.387,.101],[.366,.102],[.365,.114],[.364,.129],[.361,.14],[.43,.211],[.428,.2],[.428,.186],[.407,.148],
  [.365,.215],[.38,.225],[.395,.215],[.41,.205],[.425,.205],[.365,.20],[.38,.205],[.395,.195],[.41,.19],[.36,.185],[.375,.185],[.39,.18],[.405,.175],[.42,.18],[.365,.17],[.38,.17],[.395,.165],[.41,.165],[.37,.155],[.385,.155],[.40,.15],[.38,.14],[.39,.135],[.375,.125],[.39,.12],[.38,.235],
  [.372,.21],[.388,.212],[.402,.205],[.372,.193],[.388,.193],[.402,.185],[.368,.178],[.383,.178],[.398,.172],[.412,.175],[.372,.162],[.388,.162],[.403,.16],[.378,.148],[.393,.145],[.383,.128],[.417,.195],
  [.358,.205],[.355,.175],[.36,.16],[.368,.145],[.382,.115],[.395,.12],[.405,.135],[.415,.155],[.425,.17],[.43,.195],[.42,.215],[.405,.22],[.39,.23],[.37,.225],[.385,.185],[.375,.2],
];

const gold: P[] = [
  [.671,.408],[.66,.404],[.631,.394],[.629,.384],[.637,.383],[.648,.383],[.658,.39],[.674,.387],[.684,.393],[.68,.382],[.704,.376],[.719,.373],[.613,.368],[.613,.362],[.715,.359],[.704,.354],[.62,.335],[.63,.313],[.748,.333],[.721,.327],[.712,.332],[.718,.302],[.703,.288],[.68,.357],[.691,.373],[.669,.252],[.669,.269],[.658,.261],[.643,.27],[.631,.27],
  [.635,.36],[.65,.365],[.66,.355],[.63,.345],[.645,.35],[.66,.34],[.675,.34],[.635,.33],[.65,.335],[.665,.325],[.68,.33],[.695,.325],[.64,.315],[.655,.315],[.67,.31],[.685,.315],[.70,.31],[.645,.30],[.66,.295],[.675,.295],[.69,.30],[.65,.285],[.665,.28],[.66,.265],[.68,.285],
  [.643,.358],[.652,.35],[.637,.34],[.652,.343],[.667,.333],[.643,.322],[.657,.325],[.672,.32],[.688,.322],[.65,.307],[.665,.305],[.68,.305],[.695,.315],[.658,.285],[.672,.285],[.66,.275],
  [.62,.35],[.622,.325],[.628,.325],[.635,.37],[.648,.375],[.668,.36],[.685,.345],[.703,.325],[.708,.308],[.695,.295],[.68,.275],[.64,.30],[.668,.29],[.655,.33],[.665,.315],
  [.585,.258],[.595,.258],[.615,.262],[.551,.175],[.566,.19],[.575,.17],[.587,.142],[.611,.14],[.613,.124],[.626,.113],[.64,.091],[.619,.078],[.672,.204],[.691,.241],[.701,.239],[.702,.225],[.654,.245],[.641,.148],[.626,.151],[.576,.203],[.591,.233],[.661,.208],
  [.60,.24],[.615,.245],[.63,.245],[.645,.24],[.59,.225],[.605,.23],[.62,.23],[.635,.23],[.65,.225],[.585,.21],[.60,.215],[.615,.215],[.63,.215],[.645,.21],[.585,.195],[.60,.20],[.615,.20],[.63,.195],[.60,.185],[.615,.185],[.63,.18],[.645,.185],[.595,.17],[.61,.17],[.625,.165],[.60,.155],[.615,.155],[.635,.155],
  [.608,.235],[.622,.238],[.637,.237],[.597,.22],[.612,.222],[.627,.222],[.642,.218],[.592,.203],[.607,.207],[.622,.207],[.637,.205],[.608,.192],[.622,.192],[.637,.188],[.603,.177],[.618,.175],[.632,.17],[.608,.16],
  [.575,.215],[.572,.19],[.585,.18],[.59,.16],[.60,.145],[.62,.145],[.645,.165],[.655,.2],[.66,.22],[.655,.24],[.625,.255],[.605,.25],[.59,.24],[.615,.19],[.625,.21],[.605,.225],
  [.682,.19],[.693,.182],[.706,.185],[.72,.191],[.726,.174],[.742,.175],[.733,.136],[.74,.123],[.726,.111],[.726,.084],[.72,.076],[.706,.071],[.691,.04],[.691,.071],[.671,.065],[.663,.056],[.656,.073],[.676,.082],[.652,.101],[.645,.115],[.648,.13],[.659,.145],[.716,.098],[.663,.162],
  [.67,.165],[.685,.17],[.70,.17],[.715,.165],[.665,.15],[.68,.155],[.695,.155],[.71,.15],[.725,.155],[.67,.135],[.685,.14],[.70,.14],[.715,.135],[.665,.12],[.68,.125],[.695,.125],[.71,.125],[.67,.105],[.685,.11],[.70,.105],[.715,.115],[.68,.095],[.695,.09],[.705,.09],
  [.677,.16],[.692,.162],[.707,.16],[.672,.143],[.687,.148],[.703,.147],[.718,.145],[.672,.128],[.688,.132],[.703,.132],[.675,.113],[.69,.117],[.705,.115],[.687,.102],[.7,.098],
  [.655,.16],[.655,.14],[.658,.125],[.66,.11],[.675,.09],[.69,.08],[.712,.09],[.722,.105],[.73,.13],[.735,.15],[.715,.175],[.70,.18],[.67,.175],[.69,.13],[.7,.15],[.68,.115],
  [.776,.15],[.8,.145],[.796,.127],[.807,.129],[.826,.1],[.821,.084],[.815,.087],[.811,.061],[.822,.046],[.8,.035],[.736,.064],[.741,.079],[.741,.049],[.741,.013],[.743,0],[.755,.008],[.766,.013],[.782,.005],[.789,.01],[.794,.016],[.801,0],[.745,.096],[.751,.024],
  [.76,.11],[.775,.12],[.79,.11],[.755,.095],[.77,.105],[.785,.095],[.80,.09],[.75,.08],[.765,.09],[.78,.08],[.795,.075],[.755,.065],[.77,.075],[.785,.065],[.80,.065],[.76,.05],[.775,.06],[.79,.05],[.755,.035],[.77,.04],[.78,.035],[.765,.025],[.75,.045],
  [.768,.113],[.782,.11],[.762,.098],[.777,.095],[.792,.09],[.758,.082],[.772,.085],[.787,.08],[.762,.072],[.777,.068],[.792,.065],[.765,.058],[.782,.05],[.762,.042],[.775,.045],[.768,.032],
  [.745,.09],[.745,.07],[.745,.055],[.76,.12],[.775,.13],[.79,.12],[.803,.10],[.81,.08],[.805,.05],[.79,.035],[.775,.025],[.758,.022],[.77,.085],[.78,.095],[.783,.07],[.763,.06],
];

const blue: P[] = [
  [.931,.237],[.891,.229],[.879,.208],[.889,.207],[.9,.21],[.919,.214],[.938,.225],[.949,.211],[.958,.203],[.964,.183],[1,.158],[.955,.15],[.959,.126],[.954,.117],[.94,.097],[.938,.112],[.956,.081],[.938,.079],[.919,.063],[.895,.083],[.9,.109],[.91,.101],[.927,.105],[.866,.141],[.878,.137],[.889,.119],[.879,.17],[.884,.189],
  [.90,.195],[.915,.20],[.93,.205],[.945,.195],[.895,.18],[.91,.185],[.925,.185],[.94,.18],[.895,.165],[.91,.17],[.925,.17],[.94,.165],[.95,.175],[.89,.15],[.905,.155],[.92,.155],[.935,.15],[.90,.14],[.915,.14],[.93,.135],[.945,.14],[.91,.125],[.925,.12],[.94,.13],
  [.907,.19],[.922,.195],[.937,.193],[.902,.175],[.917,.177],[.932,.177],[.902,.16],[.917,.162],[.932,.16],[.947,.155],[.898,.147],[.912,.147],[.927,.145],[.94,.155],[.918,.128],[.932,.122],
  [.885,.175],[.885,.155],[.89,.135],[.905,.125],[.92,.11],[.935,.125],[.95,.14],[.955,.165],[.955,.185],[.94,.205],[.92,.21],[.905,.205],[.92,.18],[.91,.15],[.93,.165],[.925,.135],
];

const groups: [P[], string][] = [
  [darkRed, "#A2142F"],
  [green, "#77AC30"],
  [lightBlue, "#4DBEEE"],
  [purple, "#7E2F8E"],
  [orange, "#D95319"],
  [gold, "#EDB120"],
  [blue, "#0072BD"],
];

const INK = "#262626";
const FONT = { family: "'Liberation Sans', Arial, sans-serif", size: 22 };
const TICK_IN = 8;

function axisBase() {
  return {
    type: "linear" as const,
    min: 0,
    max: 1,
    border: { display: true, color: INK, width: 2.5 },
    grid: {
      drawOnChartArea: false,
      drawTicks: true,
      tickLength: -TICK_IN,
      tickColor: INK,
      tickWidth: 2,
    },
  };
}

function labels(v: number | string) {
  return String(+Number(v).toFixed(1));
}

function noPadding(s: any) {
  s.paddingLeft = 0;
  s.paddingRight = 0;
  s.paddingTop = 0;
  s.paddingBottom = 0;
}

const tickLetterSpacing = {
  id: "tickLetterSpacing",
  beforeDraw(chart: any) {
    chart.ctx.letterSpacing = "1px";
  },
};

export default function App() {
  const ref = useRef<HTMLCanvasElement>(null);
  useEffect(() => {
    if (!ref.current) return;
    const chart = new Chart(ref.current, {
      type: "scatter",
      plugins: [tickLetterSpacing],
      data: {
        datasets: groups.map(([pts, color]) => ({
          data: pts.map(([x, y]) => ({ x, y })),
          backgroundColor: color,
          borderWidth: 0,
          pointRadius: 4.9,
          pointHoverRadius: 4.9,
          clip: false as any,
        })),
      },
      options: {
        responsive: false,
        animation: false,
        events: [],
        layout: { padding: { left: 0, top: 16.5, right: 12, bottom: 0 } },
        plugins: { legend: { display: false }, tooltip: { enabled: false } },
        scales: {
          x: {
            ...axisBase(),
            position: "bottom",
            ticks: { stepSize: 0.1, color: INK, font: FONT, padding: TICK_IN + 15, maxRotation: 0, autoSkip: false, callback: labels },
            afterFit: (s: any) => { s.height = 39.5; noPadding(s); },
          },
          y: {
            ...axisBase(),
            position: "left",
            ticks: { stepSize: 0.1, color: INK, font: FONT, padding: TICK_IN + 10, labelOffset: 1, autoSkip: false, callback: labels },
            afterFit: (s: any) => { s.width = 51.5; noPadding(s); },
          },
          x2: {
            ...axisBase(),
            position: "top",
            ticks: { stepSize: 0.1, display: false, autoSkip: false },
            afterFit: (s: any) => { s.height = 0; noPadding(s); },
          },
          y2: {
            ...axisBase(),
            position: "right",
            ticks: { stepSize: 0.1, display: false, autoSkip: false },
            afterFit: (s: any) => { s.width = 0; noPadding(s); },
          },
        } as any,
      },
    });
    return () => chart.destroy();
  }, []);
  return (
    <div style={{ position: "absolute", left: 0, top: 0, width: 831, height: 663, background: "#fff" }}>
      <canvas ref={ref} width={831} height={663} style={{ display: "block" }} />
    </div>
  );
}
